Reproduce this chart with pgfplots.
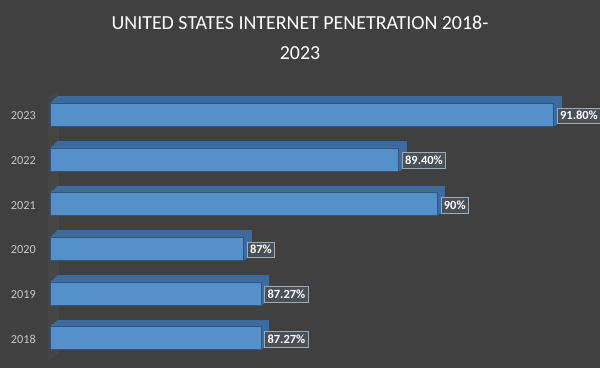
\documentclass[border=0pt]{standalone}
\usepackage{pgfplots}
\pgfplotsset{compat=1.18}
\usepackage{pgfplotstable}
\usepackage{fontspec}
\setmainfont{Carlito}
\definecolor{bgc}{HTML}{404040}
\definecolor{frontc}{HTML}{5690CA}
\definecolor{topc}{HTML}{3D6B9D}
\definecolor{edgec}{HTML}{2F5580}
\definecolor{tickc}{HTML}{C8C8C8}
\definecolor{wallc}{HTML}{464646}
\definecolor{boxc}{HTML}{4A5058}
\definecolor{boxd}{HTML}{A0AAB4}
\pgfplotstableread{
y v lab
0 87.27 87.27
1 87.27 87.27
2 87 87
3 90 90
4 89.4 89.40
5 91.8 91.80
}\data
\begin{document}
\begin{tikzpicture}
\fill[bgc] (0,0) rectangle (600bp,368bp);
\useasboundingbox (0,0) rectangle (600bp,368bp);
\fill[wallc] (48bp,7bp) -- (48bp,270bp) -- (59bp,278bp) -- (59bp,15bp) -- cycle;
\node[text=white, font=\fontsize{20}{24}\selectfont, inner sep=0pt] at (300bp,345bp) {UNITED STATES INTERNET PENETRATION 2018-};
\node[text=white, font=\fontsize{20}{24}\selectfont, inner sep=0pt] at (300bp,315bp) {2023};
\begin{axis}[
  at={(50bp,7.6bp)}, anchor=south west,
  scale only axis, width=549bp, height=268bp,
  xmin=0, xmax=8.5, ymin=-0.5, ymax=5.5,
  clip=false,
  axis line style={draw=none},
  tick style={draw=none},
  xtick=\empty,
  ytick={0,1,2,3,4,5},
  yticklabels={2018,2019,2020,2021,2022,2023},
  yticklabel style={anchor=east, inner sep=0pt, xshift=-14bp, yshift=-1bp, text=tickc, font=\fontsize{12.3}{14}\selectfont},
]
\pgfplotsinvokeforeach{1,...,7}{
\addplot[xbar, bar shift=0pt, bar width=23bp, fill=topc, draw=topc, line width=0.5bp, xshift=#1bp, yshift={0.93*#1bp}, forget plot]
  table[x expr=\thisrow{v}-84, y=y]{\data};
}
\addplot[xbar, bar shift=0pt, bar width=23bp, fill=frontc, draw=edgec, line width=0.8bp,
  point meta=explicit symbolic,
  nodes near coords={\pgfplotspointmeta\%},
  every node near coord/.append style={anchor=west, xshift=3bp, yshift=-1bp, text=white,
    font=\fontsize{12.5}{14}\selectfont\bfseries, draw=boxd, fill=boxc,
    line width=0.7bp, inner xsep=3bp, inner ysep=3.5bp}]
  table[x expr=\thisrow{v}-84, y=y, meta=lab]{\data};
\end{axis}
\end{tikzpicture}
\end{document}
